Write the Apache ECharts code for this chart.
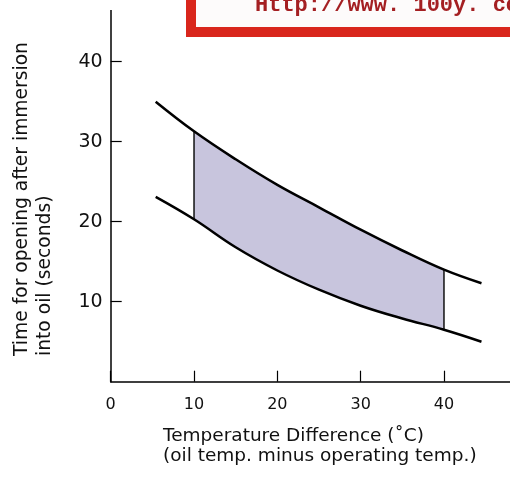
<!DOCTYPE html>
<html><head><meta charset="utf-8">
<script src="https://cdn.jsdelivr.net/npm/echarts@6/dist/echarts.min.js"></script>
<style>html,body{margin:0;padding:0;background:#fff}#c{width:510px;height:481px}</style>
</head><body><div id="c"></div>
<script>
// ---- data ----
const xTickValues = [0, 10, 20, 30, 40];
const yTickValues = [10, 20, 30, 40];
const curveX = [5.4, 10, 15, 20, 25, 30, 35, 40, 44.5];
const upperY = [35.0, 31.3, 27.8, 24.6, 21.8, 19.0, 16.4, 14.0, 12.3];
const lowerY = [23.1, 20.3, 16.8, 13.9, 11.5, 9.5, 7.9, 6.5, 5.0];
const bandRange = [10, 40];
const xTitle = 'Temperature Difference (˚C)\n(oil temp. minus operating temp.)';
const yTitle = 'Time for opening after immersion\ninto oil (seconds)';
const bannerText = 'Http://www. 100y. com. tw';

// ---- build series data ----
const upperData = curveX.map((x, i) => [x, upperY[i]]);
const lowerData = curveX.map((x, i) => [x, lowerY[i]]);
const bandIdx = curveX.map((x, i) => i).filter(i => curveX[i] >= bandRange[0] && curveX[i] <= bandRange[1]);
const bandUpper = bandIdx.map(i => [curveX[i], upperY[i]]);
const bandLower = bandIdx.map(i => [curveX[i], lowerY[i]]);
const i0 = bandIdx[0], i1 = bandIdx[bandIdx.length - 1];
const edgeLeft = [[curveX[i0], lowerY[i0]], [curveX[i0], upperY[i0]]];
const edgeRight = [[curveX[i1], lowerY[i1]], [curveX[i1], upperY[i1]]];

const FONT = '"DejaVu Sans", sans-serif';
const chart = echarts.init(document.getElementById('c'), null, {renderer: 'canvas'});
chart.setOption({
  animation: false,
  backgroundColor: '#fff',
  grid: {left: 110.7, right: -17.3, top: -18.3, bottom: 99.3, containLabel: false, outerBoundsMode: 'none'},
  xAxis: {
    type: 'value', min: 0, max: 50, interval: 10, z: 10,
    splitLine: {show: false},
    axisLine: {lineStyle: {color: '#000', width: 1.5}},
    axisTick: {inside: true, length: 11, lineStyle: {color: '#000', width: 1.2}},
    axisLabel: {color: '#111', fontFamily: FONT, fontSize: 16, margin: 15,
      formatter: v => xTickValues.includes(v) ? String(v) : ''}
  },
  yAxis: {
    type: 'value', min: 0, max: 50, interval: 10, z: 10,
    splitLine: {show: false},
    axisLine: {lineStyle: {color: '#000', width: 1.5}},
    axisTick: {inside: true, length: 11, lineStyle: {color: '#000', width: 1.2}},
    axisLabel: {color: '#111', fontFamily: FONT, fontSize: 19, margin: 8, showMinLabel: false,
      formatter: v => yTickValues.includes(v) ? String(v) : ''}
  },
  series: [
    {type: 'line', data: bandUpper, smooth: 0.4, symbol: 'none', z: 1,
      lineStyle: {opacity: 0}, areaStyle: {color: '#c8c5dd', opacity: 1}},
    {type: 'line', data: bandLower, smooth: 0.4, symbol: 'none', z: 1,
      lineStyle: {opacity: 0}, areaStyle: {color: '#ffffff', opacity: 1}},
    {type: 'line', data: edgeLeft, symbol: 'none', lineStyle: {color: '#111', width: 1.5}, z: 3},
    {type: 'line', data: edgeRight, symbol: 'none', lineStyle: {color: '#111', width: 1.5}, z: 3},
    {type: 'line', data: upperData, smooth: 0.4, symbol: 'none', lineStyle: {color: '#000', width: 2.5}, z: 4},
    {type: 'line', data: lowerData, smooth: 0.4, symbol: 'none', lineStyle: {color: '#000', width: 2.5}, z: 4}
  ],
  graphic: [
    {type: 'rect', x: 100, y: 0, shape: {x: 0, y: 0, width: 25, height: 10}, style: {fill: '#fff'}, z: 50},
    {type: 'text', x: 163, y: 426, z: 60,
      style: {text: xTitle, font: '18.5px ' + FONT, fill: '#111', align: 'left', verticalAlign: 'top',
        textAlign: 'left', textVerticalAlign: 'top', lineHeight: 20}},
    {type: 'text', x: 11, y: 356, rotation: Math.PI / 2, z: 60,
      style: {text: yTitle, font: '18.7px ' + FONT, fill: '#111', align: 'left', verticalAlign: 'top',
        textAlign: 'left', textVerticalAlign: 'top', lineHeight: 23}},
    {type: 'rect', x: 191, y: -20, z: 70, shape: {x: 0, y: 0, width: 400, height: 52},
      style: {fill: '#fdfbfb', stroke: '#d9261c', lineWidth: 10}},
    {type: 'text', x: 255, y: 16, z: 71,
      style: {text: bannerText, font: 'bold 22px "Liberation Mono", monospace', fill: '#a41f22',
        align: 'left', verticalAlign: 'bottom', textAlign: 'left', textVerticalAlign: 'bottom'}}
  ]
});
</script></body></html>
